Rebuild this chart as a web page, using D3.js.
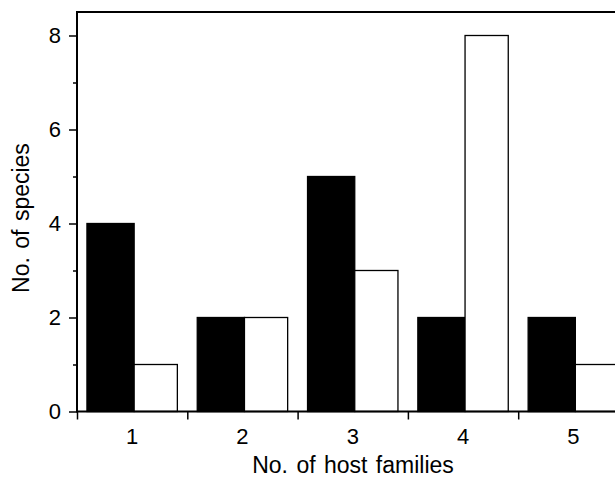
<!DOCTYPE html>
<html>
<head>
<meta charset="utf-8">
<script src="https://cdn.jsdelivr.net/npm/d3@7"></script>
<style>
  html, body { margin: 0; padding: 0; background: #fff; }
  svg { display: block; font-family: "Liberation Sans", Arial, Helvetica, sans-serif; }
</style>
</head>
<body>
<div id="chart"></div>
<script>
// host family counts on the x axis
const categories = [1, 2, 3, 4, 5];
const series = ["black", "white"];
const blackValues = [4, 2, 5, 2, 2];
const whiteValues = [1, 2, 3, 8, 1];
const majorTicks = [0, 2, 4, 6, 8];
const minorTicks = [1, 3, 5, 7];

(function() {
    const W = 615, H = 480;
    const left = 77, top = 12, bottom = 411.5, right = 628.5;

    const svg = d3.select("#chart").append("svg")
        .attr("width", W)
        .attr("height", H);

    const x = d3.scaleBand()
        .domain(categories)
        .range([left, right])
        .paddingInner(0)
        .paddingOuter(0);

    const xInner = d3.scaleBand()
        .domain(series)
        .range([0, x.bandwidth()])
        .paddingInner(0)
        .paddingOuter(0.22);

    const xEdges = d3.scaleLinear()
        .domain([0.5, 5.5])
        .range([left, right]);

    const y = d3.scaleLinear()
        .domain([0, 8.5])
        .range([bottom, top]);

    const rows = categories.map((c, i) => ({ cat: c, black: blackValues[i], white: whiteValues[i] }));

    // bars
    const groups = svg.append("g").selectAll("g")
        .data(rows)
        .join("g")
        .attr("transform", d => `translate(${x(d.cat)},0)`);

    groups.append("rect")
        .attr("x", xInner("black"))
        .attr("y", d => y(d.black))
        .attr("width", xInner.bandwidth() + 2)
        .attr("height", d => y(0) - y(d.black))
        .attr("fill", "#000")
        .attr("stroke", "#000")
        .attr("stroke-width", 1.3);

    groups.append("rect")
        .attr("x", xInner("white") + 2)
        .attr("y", d => y(d.white))
        .attr("width", xInner.bandwidth() - 2)
        .attr("height", d => y(0) - y(d.white))
        .attr("fill", "#fff")
        .attr("stroke", "#000")
        .attr("stroke-width", 1.3);

    // frame
    svg.append("path")
        .attr("d", `M${right + 20},${top}H${left}V${bottom}H${right + 20}`)
        .attr("fill", "none")
        .attr("stroke", "#000")
        .attr("stroke-width", 2);

    // y axis, major + minor ticks
    svg.append("g")
        .attr("transform", `translate(${left},0)`)
        .call(d3.axisLeft(y).tickValues(majorTicks).tickSize(8).tickPadding(8))
        .call(g => g.select(".domain").remove())
        .call(g => g.selectAll("line").attr("stroke-width", 1.5))
        .call(g => g.selectAll("text").attr("font-size", 22).attr("fill", "#000")
            .attr("font-family", "Liberation Sans, Arial, sans-serif"));

    svg.append("g")
        .attr("transform", `translate(${left},0)`)
        .call(d3.axisLeft(y).tickValues(minorTicks).tickSize(4).tickFormat(""))
        .call(g => g.select(".domain").remove())
        .call(g => g.selectAll("line").attr("stroke-width", 1.5));

    // x axis: ticks at band edges, labels at centres
    svg.append("g")
        .attr("transform", `translate(0,${bottom})`)
        .call(d3.axisBottom(xEdges).tickValues([0.5, 1.5, 2.5, 3.5, 4.5, 5.5]).tickSize(8).tickFormat(""))
        .call(g => g.select(".domain").remove())
        .call(g => g.selectAll("line").attr("stroke-width", 1.5));

    svg.append("g")
        .attr("transform", `translate(0,${bottom})`)
        .call(d3.axisBottom(x).tickSize(0).tickPadding(17))
        .call(g => g.select(".domain").remove())
        .call(g => g.selectAll("text").attr("font-size", 22).attr("fill", "#000")
            .attr("font-family", "Liberation Sans, Arial, sans-serif"));

    // axis titles
    svg.append("text")
        .attr("x", 353)
        .attr("y", 473)
        .attr("text-anchor", "middle")
        .attr("font-size", 23)
        .attr("word-spacing", 2)
        .text("No. of host families");

    svg.append("text")
        .attr("transform", "translate(29,218) rotate(-90)")
        .attr("text-anchor", "middle")
        .attr("font-size", 23)
        .attr("word-spacing", 2)
        .text("No. of species");
})();
</script>
</body>
</html>
